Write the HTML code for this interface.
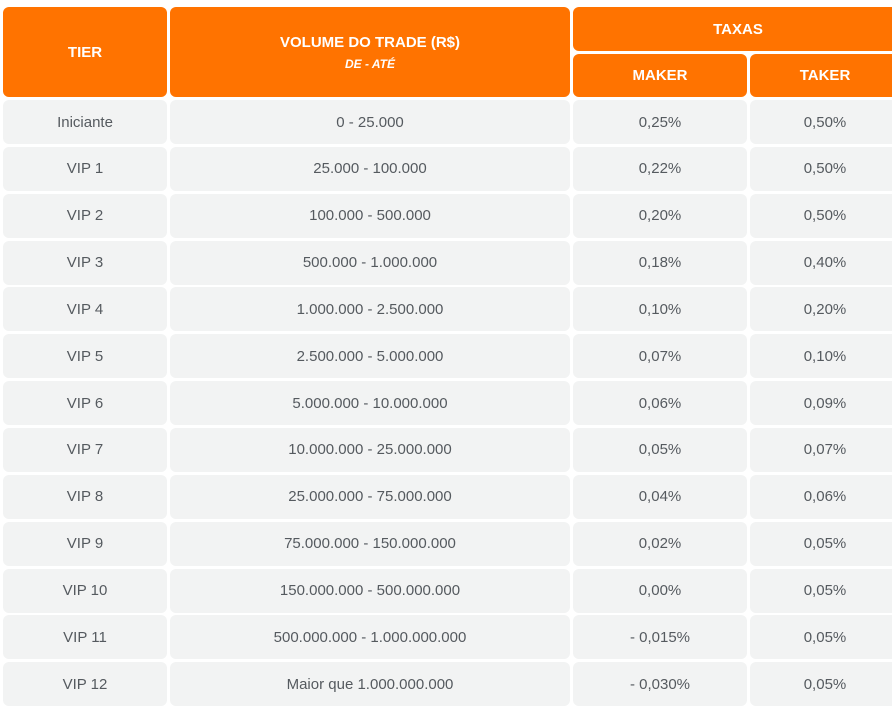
<!DOCTYPE html>
<html><head><meta charset="utf-8"><style>
body{margin:0;width:892px;height:707px;background:#fff;position:relative;overflow:hidden;font-family:"Liberation Sans",sans-serif}
.c{position:absolute;border-radius:6px;display:flex;align-items:center;justify-content:center;flex-direction:column;box-sizing:border-box}
.h{background:#ff7300;color:#fff;font-weight:bold;font-size:15px}
.r{background:#f2f3f3;color:#555a5f;font-size:15px}
.sub{font-style:italic;font-size:12px;margin-top:6px}
</style></head><body>
<div class="c h" style="left:3px;top:7px;width:164px;height:90px">TIER</div>
<div class="c h" style="left:170px;top:7px;width:400px;height:90px"><div>VOLUME DO TRADE (R$)</div><div class="sub">DE - ATÉ</div></div>
<div class="c h" style="left:573px;top:7px;width:330px;height:44px">TAXAS</div>
<div class="c h" style="left:573px;top:54px;width:174px;height:43px">MAKER</div>
<div class="c h" style="left:750px;top:54px;width:150px;height:43px">TAKER</div>
<div id="rows"></div>
<script>
const tiers=["Iniciante","VIP 1","VIP 2","VIP 3","VIP 4","VIP 5","VIP 6","VIP 7","VIP 8","VIP 9","VIP 10","VIP 11","VIP 12"];
const volumes=["0 - 25.000","25.000 - 100.000","100.000 - 500.000","500.000 - 1.000.000","1.000.000 - 2.500.000","2.500.000 - 5.000.000","5.000.000 - 10.000.000","10.000.000 - 25.000.000","25.000.000 - 75.000.000","75.000.000 - 150.000.000","150.000.000 - 500.000.000","500.000.000 - 1.000.000.000","Maior que 1.000.000.000"];
const makers=["0,25%","0,22%","0,20%","0,18%","0,10%","0,07%","0,06%","0,05%","0,04%","0,02%","0,00%","- 0,015%","- 0,030%"];
const takers=["0,50%","0,50%","0,50%","0,40%","0,20%","0,10%","0,09%","0,07%","0,06%","0,05%","0,05%","0,05%","0,05%"];
const cols=[[3,164],[170,400],[573,174],[750,150]];
const root=document.getElementById('rows');
const names=['tier-cell','volume-cell','maker-cell','taker-cell'];
tiers.forEach((t,i)=>{
  const vals=[t,volumes[i],makers[i],takers[i]];
  const top=100+i*46.85;
  vals.forEach((v,j)=>{
    const d=document.createElement('div');
    d.className='c r';
    d.style.left=cols[j][0]+'px';d.style.width=cols[j][1]+'px';
    d.style.top=top+'px';d.style.height='44px';
    d.textContent=v;
    
    
    root.appendChild(d);
  });
});
</script>
</body></html>
